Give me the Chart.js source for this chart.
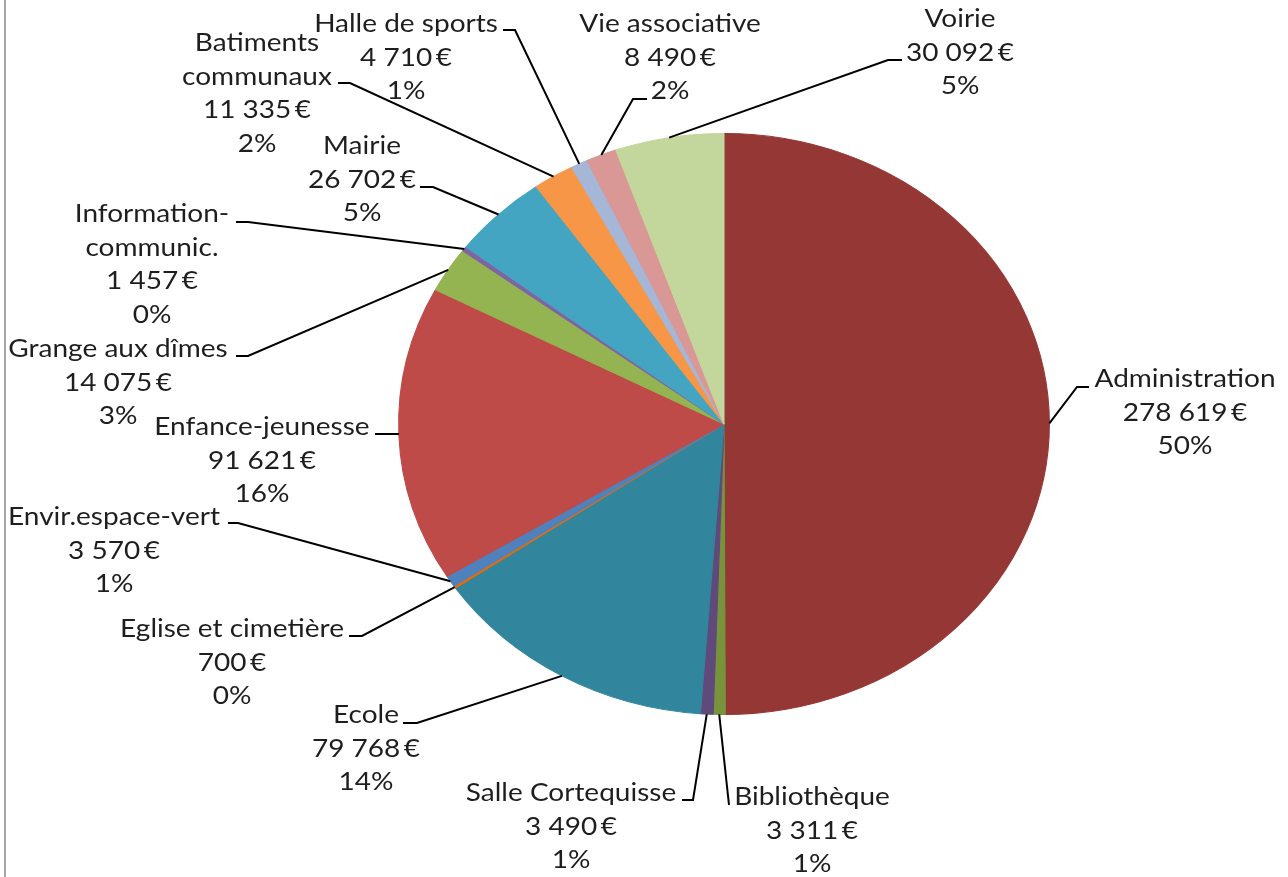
<!DOCTYPE html>
<html><head><meta charset="utf-8">
<script src="https://cdn.jsdelivr.net/npm/chart.js@4.4.0/dist/chart.umd.min.js"></script>
<style>
html,body{margin:0;padding:0;background:#fff;overflow:hidden}
#wrap{position:relative;width:1288px;height:877px;background:#fff}
#edge{position:absolute;left:4px;top:0;width:2px;height:877px;background:#a6a6a6}
canvas{position:absolute;left:0;top:0}
</style></head><body>
<div id="wrap"><canvas id="c" width="1288" height="877"></canvas><div id="edge"></div></div>
<script>
// ---- data ----
const categories = ['Administration','Bibliothèque','Salle Cortequisse','Ecole','Eglise et cimetière','Envir.espace-vert','Enfance-jeunesse','Grange aux dîmes','Information-\ncommunic.','Mairie','Batiments\ncommunaux','Halle de sports','Vie associative','Voirie'];
const values = [278619,3311,3490,79768,700,3570,91621,14075,1457,26702,11335,4710,8490,30092];
const colors = ['#953735','#77933C','#604A7B','#31859C','#E46C0A','#4F81BD','#BE4B48','#93B450','#8064A2','#43A5C2','#F79646','#A5B6D6','#D99795','#C3D69B'];
// label layout: [text centre x, first line centre y, elbow x, elbow y, tick end x]
const labelLayout = [
  [1185,379,1077,387,1089],
  [812,797,729,805,729],
  [571,793,693,800,682],
  [366,715,417,723,403],
  [232,629,362,636,349],
  [114,517,238,523,228],
  [262,427,398,434,375],
  [118,349,248,356,236],
  [152,214,248,222,236],
  [362,146,433,187,420],
  [257,43,350,83,338],
  [406,24,515,30,503],
  [670,24,633,99,647],
  [960,19,888,60,902]
];
const SX = 1.12;          // horizontal stretch of the picture
const LINE_H = 33.5;
const FONT = '25px Lato';
const TEXT_COLOR = '#1e1e1e';

const total = values.reduce((a,b)=>a+b,0);
function fmtEuro(n){ return String(n).replace(/\B(?=(\d{3})+(?!\d))/g,' ') + '\u2009€'; }

function drawLabels(chart){
  const ctx = chart.ctx;
  const arcs = chart.getDatasetMeta(0).data;
  ctx.save();
  ctx.strokeStyle = '#000';
  ctx.lineWidth = 2;
  ctx.lineJoin = 'miter';
  arcs.forEach((a,i)=>{
    const L = labelLayout[i];
    const mid = (a.startAngle + a.endAngle)/2;
    const px = a.x + a.outerRadius*SX*Math.cos(mid);
    const py = a.y + a.outerRadius*Math.sin(mid);
    ctx.beginPath();
    ctx.moveTo(px,py);
    ctx.lineTo(L[2],L[3]);
    ctx.lineTo(L[4],L[3]);
    ctx.stroke();
    const lines = categories[i].split('\n');
    lines.push(fmtEuro(values[i]));
    lines.push(Math.round(values[i]/total*100) + '%');
    ctx.fillStyle = TEXT_COLOR;
    ctx.font = FONT;
    ctx.textAlign = 'center';
    ctx.textBaseline = 'middle';
    lines.forEach((t,k)=>{
      ctx.save();
      ctx.translate(L[0], L[1] + k*LINE_H);
      ctx.scale(SX,1);
      ctx.fillText(t,0,0);
      ctx.restore();
    });
  });
  ctx.restore();
}

const ellipsePlugin = {
  id:'ellipse',
  beforeDatasetsDraw(chart){
    const a = chart.getDatasetMeta(0).data[0];
    const ctx = chart.ctx;
    ctx.save();
    ctx.translate(a.x,a.y); ctx.scale(SX,1); ctx.translate(-a.x,-a.y);
  },
  afterDatasetsDraw(chart){
    chart.ctx.restore();
    drawLabels(chart);
  }
};

new Chart(document.getElementById('c'), {
  type:'pie',
  data:{ labels: categories, datasets:[{ data: values, backgroundColor: colors, borderColor: colors, borderWidth: 1, clip:false }] },
  options:{
    responsive:false, devicePixelRatio:1, animation:false,
    layout:{ padding:{ left:433, right:273, top:133, bottom:162 } },
    plugins:{ legend:{display:false}, tooltip:{enabled:false}, title:{display:false} }
  },
  plugins:[ellipsePlugin]
});
</script>
</body></html>
